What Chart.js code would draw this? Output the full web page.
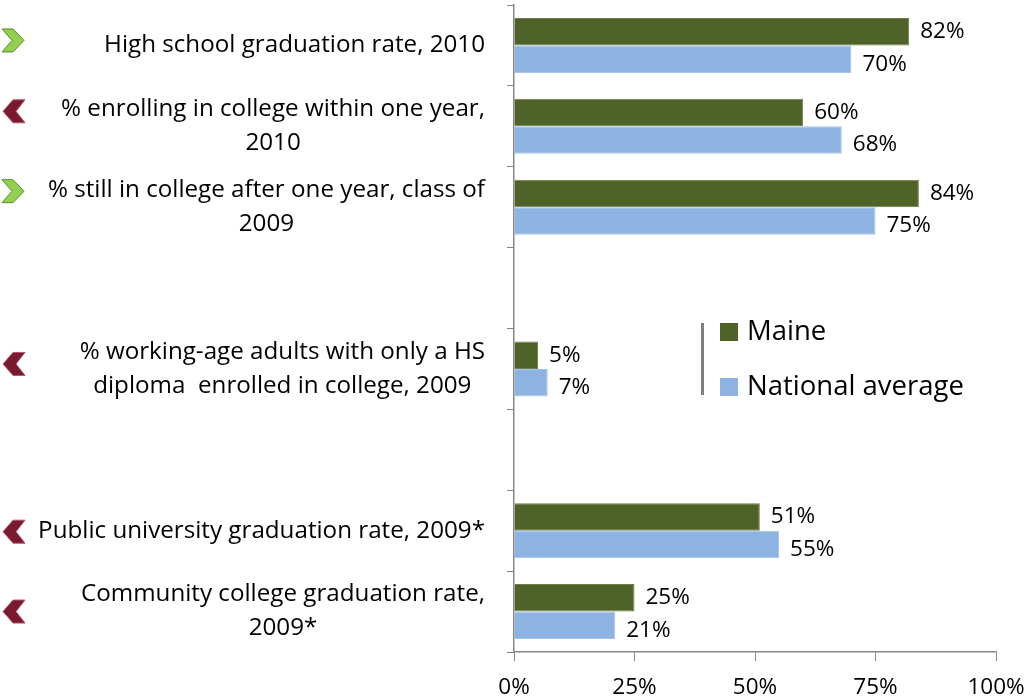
<!DOCTYPE html>
<html>
<head>
<meta charset="utf-8">
<script src="https://cdn.jsdelivr.net/npm/chart.js@4.4.0/dist/chart.umd.min.js"></script>
<style>
  html, body { margin: 0; padding: 0; background: #fff; }
  #wrap { width: 1033px; height: 698px; position: relative; }
</style>
</head>
<body>
<div id="wrap"><canvas id="chart"></canvas></div>
<script>
const categories = [
  ["High school graduation rate, 2010"],
  ["% enrolling in college within one year,", "2010"],
  ["% still in college after one year, class of", "2009"],
  [""],
  ["% working-age adults with only a HS", "diploma  enrolled in college, 2009"],
  [""],
  ["Public university graduation rate, 2009*"],
  ["Community college graduation rate,", "2009*"]
];
const maine = [82, 60, 84, null, 5, null, 51, 25];
const national = [70, 68, 75, null, 7, null, 55, 21];
const trend = ["up", "down", "up", null, "down", null, "down", "down"];
const seriesNames = ["Maine", "National average"];

const FONT = '"Open Sans", "Noto Sans", sans-serif';
const GREY = '#868686';

// category labels: block right aligned, lines centred inside the block
const labelPlugin = {
  id: 'catLabels',
  afterDraw(chart) {
    const ctx = chart.ctx;
    const y = chart.scales.y;
    const right = y.right - 29;
    ctx.save();
    ctx.font = '24.2px ' + FONT;
    ctx.fillStyle = '#000';
    ctx.textAlign = 'center';
    ctx.textBaseline = 'middle';
    categories.forEach((lines, i) => {
      const cy = y.getPixelForValue(i);
      const w = Math.max(...lines.map(l => ctx.measureText(l).width));
      lines.forEach((l, j) => {
        ctx.fillText(l, right - w / 2, cy + (j - (lines.length - 1) / 2) * 34);
      });
    });
    ctx.restore();
  }
};

// little green / red chevrons at the far left
const chevronShift = [-5, -15, -16, 0, -5, 0, 1, 0];
const chevronPlugin = {
  id: 'chevrons',
  afterDraw(chart) {
    const ctx = chart.ctx;
    const y = chart.scales.y;
    ctx.save();
    trend.forEach((t, i) => {
      if (!t) return;
      const cy = y.getPixelForValue(i) + chevronShift[i];
      const h = 23, top = cy - h / 2, bot = cy + h / 2;
      ctx.beginPath();
      if (t === 'up') {
        ctx.moveTo(2, top);
        ctx.lineTo(13, top);
        ctx.lineTo(24, cy);
        ctx.lineTo(13, bot);
        ctx.lineTo(2, bot);
        ctx.lineTo(12, cy);
        ctx.fillStyle = '#92D050';
        ctx.strokeStyle = '#5b8a2a';
      } else {
        ctx.moveTo(25, top);
        ctx.lineTo(13, top);
        ctx.lineTo(3, cy);
        ctx.lineTo(13, bot);
        ctx.lineTo(25, bot);
        ctx.lineTo(16, cy);
        ctx.fillStyle = '#7b1a2e';
        ctx.strokeStyle = '#b0566a';
      }
      ctx.closePath();
      ctx.fill();
      ctx.lineWidth = 1;
      ctx.stroke();
    });
    ctx.restore();
  }
};

// value labels right of each bar
const valuePlugin = {
  id: 'values',
  afterDatasetsDraw(chart) {
    const ctx = chart.ctx;
    ctx.save();
    ctx.font = '22.5px ' + FONT;
    ctx.fillStyle = '#000';
    ctx.textAlign = 'left';
    ctx.textBaseline = 'middle';
    chart.data.datasets.forEach((ds, di) => {
      chart.getDatasetMeta(di).data.forEach((bar, i) => {
        if (ds.data[i] == null) return;
        ctx.fillText(ds.data[i] + '%', bar.x + 11, bar.y + (di === 0 ? 0 : 5));
      });
    });
    ctx.restore();
  }
};

// legend sitting inside the plot, with the grey bar on its left
const legendPlugin = {
  id: 'boxLegend',
  afterDraw(chart) {
    const ctx = chart.ctx;
    const a = chart.chartArea;
    const x = a.left + 187, top = a.top + 318;
    ctx.save();
    ctx.fillStyle = '#808080';
    ctx.fillRect(x, top, 3, 72);
    ctx.font = '27.5px ' + FONT;
    ctx.textBaseline = 'middle';
    chart.data.datasets.forEach((ds, i) => {
      const ry = top + i * 55;
      ctx.fillStyle = ds.backgroundColor;
      ctx.fillRect(x + 19, ry, 18, 18);
      ctx.fillStyle = '#000';
      ctx.fillText(ds.label, x + 46, ry + 9);
    });
    ctx.restore();
  }
};

new Chart(document.getElementById('chart'), {
  type: 'bar',
  data: {
    labels: categories,
    datasets: [
      { label: seriesNames[0], data: maine, backgroundColor: '#4F6228', borderColor: '#6f7f4c', borderWidth: 1 },
      { label: seriesNames[1], data: national, backgroundColor: '#8DB3E2', borderColor: '#a6c4ea', borderWidth: 1 }
    ]
  },
  options: {
    indexAxis: 'y',
    responsive: true,
    maintainAspectRatio: false,
    animation: false,
    layout: { padding: { top: 5, right: 37, left: 0, bottom: 0 } },
    datasets: { bar: { categoryPercentage: 0.68, barPercentage: 1.0 } },
    plugins: { legend: { display: false }, tooltip: { enabled: false } },
    scales: {
      x: {
        min: 0,
        max: 100,
        ticks: {
          stepSize: 25, callback: v => v + '%', color: '#000',
          font: { family: FONT, size: 22.5 }, padding: 13, maxRotation: 0, minRotation: 0
        },
        grid: { drawOnChartArea: false, tickLength: 9, tickColor: GREY },
        border: { color: GREY, width: 1.5 },
        afterFit(scale) { scale.height = 46; scale.paddingRight = 0; scale.paddingLeft = 0; }
      },
      y: {
        ticks: { display: false },
        grid: { offset: true, drawOnChartArea: false, tickLength: 7, tickColor: GREY },
        border: { color: GREY, width: 1.5 },
        afterFit(scale) { scale.width = 514; }
      }
    }
  },
  plugins: [labelPlugin, chevronPlugin, valuePlugin, legendPlugin]
});
</script>
</body>
</html>
